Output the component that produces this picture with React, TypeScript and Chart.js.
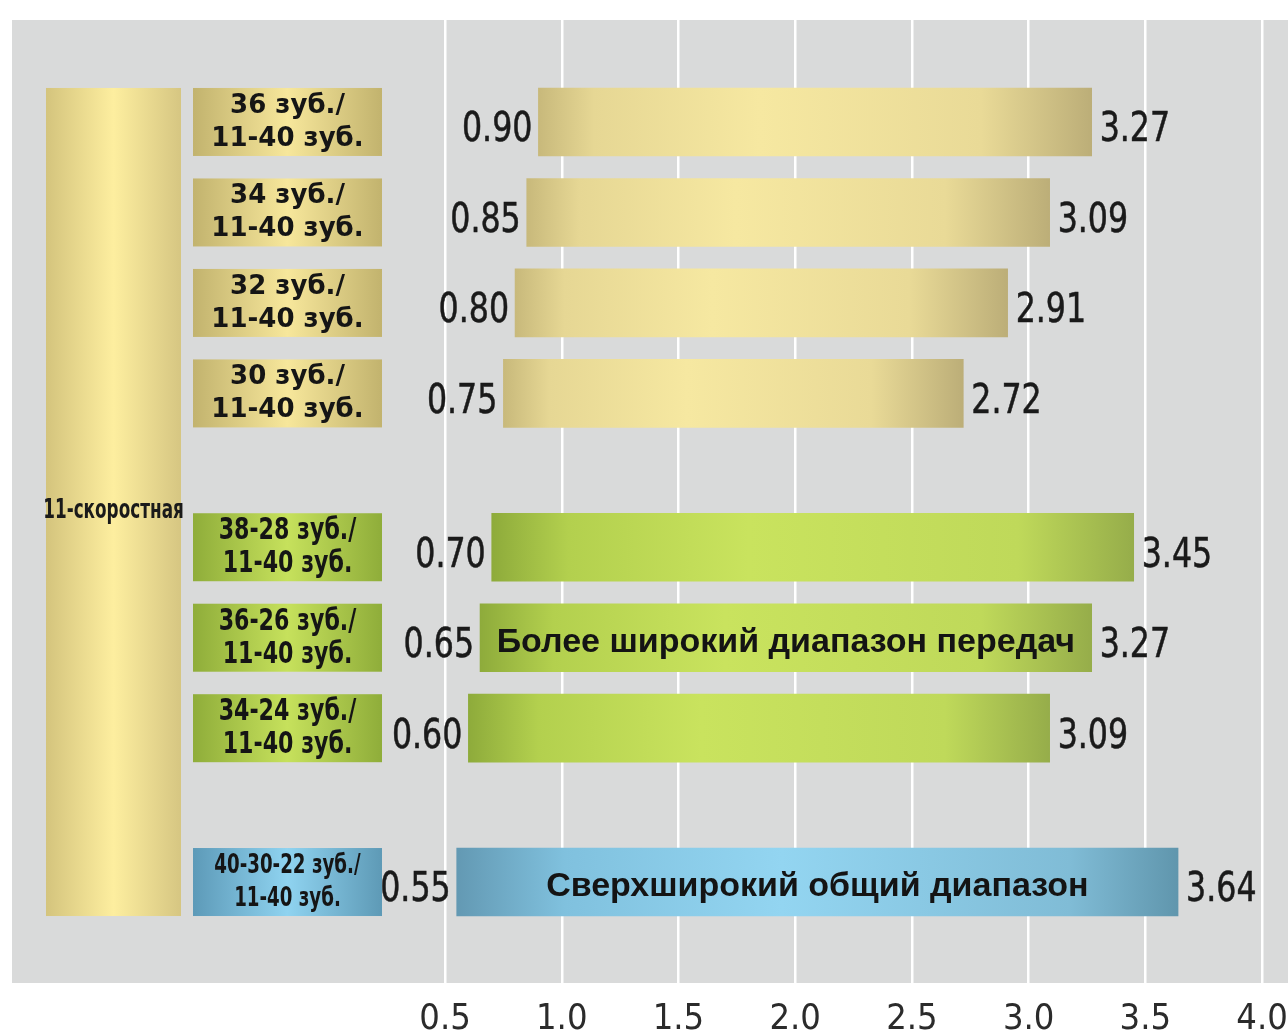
import React, { useEffect, useRef } from 'react';
import { Chart, registerables } from 'chart.js';

Chart.register(...registerables);

// ---------- data ----------
const chainrings = ['36 зуб./', '34 зуб./', '32 зуб./', '30 зуб./', '38-28 зуб./', '36-26 зуб./', '34-24 зуб./', '40-30-22 зуб./'];
const cassettes = ['11-40 зуб.', '11-40 зуб.', '11-40 зуб.', '11-40 зуб.', '11-40 зуб.', '11-40 зуб.', '11-40 зуб.', '11-40 зуб.'];
const lowGear = [0.90, 0.85, 0.80, 0.75, 0.70, 0.65, 0.60, 0.55];
const highGear = [3.27, 3.09, 2.91, 2.72, 3.45, 3.27, 3.09, 3.64];
const groupOfRow = [0, 0, 0, 0, 1, 1, 1, 2];
const barCaptions = ['', '', '', '', '', 'Более широкий диапазон передач', '', 'Сверхширокий общий диапазон'];
const drivetrainLabel = '11-скоростная';
const xTickValues = [0.5, 1.0, 1.5, 2.0, 2.5, 3.0, 3.5, 4.0];

// ---------- styling ----------
const GROUP_GAP = 0.7;
const COND = "'DejaVu Sans Condensed', 'Liberation Sans Narrow', sans-serif";
const SANS = "'Liberation Sans', Arial, sans-serif";
const WIDE = "'DejaVu Sans', 'Liberation Sans', sans-serif";

type Stops = [number, string][];
const barStops: Stops[] = [
  [[0, '#c8b97b'], [0.1, '#e6d794'], [0.4, '#f6e8a1'], [0.8, '#e9da97'], [1, '#bcae78']],
  [[0, '#8eab3b'], [0.12, '#b3d04e'], [0.4, '#c9e35e'], [0.82, '#bfd95a'], [1, '#96ad4a']],
  [[0, '#6399b3'], [0.15, '#80c1de'], [0.45, '#93d5f1'], [0.85, '#80bcd6'], [1, '#6096ad']],
];
const boxStops: Stops[] = [
  [[0, '#c2b36e'], [0.5, '#f7e79b'], [1, '#c2b36e']],
  [[0, '#8fad3a'], [0.5, '#c6e15c'], [1, '#8fad3a']],
  [[0, '#5d9ab8'], [0.5, '#8fd3f0'], [1, '#5e9ab6']],
];
const bigBoxStops: Stops = [[0, '#d4c47d'], [0.5, '#fdee9f'], [1, '#d6c682']];
const boxFonts = [`bold 26px ${WIDE}`, `bold 30px ${COND}`, `bold 27px ${COND}`];
const boxScale = [1.0, 0.82, 0.75];

function makeGradient(ctx: CanvasRenderingContext2D, x0: number, x1: number, stops: Stops) {
  const g = ctx.createLinearGradient(x0, 0, x1, 0);
  stops.forEach(([o, c]) => g.addColorStop(o, c));
  return g;
}

function fillScaled(ctx: CanvasRenderingContext2D, text: string, x: number, y: number, sx: number, align: CanvasTextAlign, stroke = 0) {
  ctx.save();
  ctx.translate(x, y);
  ctx.scale(sx, 1);
  ctx.textAlign = align;
  ctx.textBaseline = 'middle';
  ctx.fillText(text, 0, 0);
  if (stroke > 0) {
    ctx.lineWidth = stroke;
    ctx.strokeStyle = ctx.fillStyle as string;
    ctx.strokeText(text, 0, 0);
  }
  ctx.restore();
}

export default function App() {
  const ref = useRef<HTMLCanvasElement>(null);

  useEffect(() => {
    const canvas = ref.current;
    if (!canvas) return;
    const positions = chainrings.map((_, i) => i + GROUP_GAP * groupOfRow[i]);

    const bgPlugin = {
      id: 'bg',
      beforeDraw(chart: any) {
        const { ctx, chartArea } = chart;
        ctx.save();
        ctx.fillStyle = '#ffffff';
        ctx.fillRect(0, 0, chart.width, chart.height);
        ctx.fillStyle = '#d9dada';
        ctx.fillRect(chartArea.left, chartArea.top, chartArea.right - chartArea.left, chartArea.bottom - chartArea.top);
        ctx.restore();
      },
    };

    const labelPlugin = {
      id: 'labels',
      afterDatasetsDraw(chart: any) {
        const { ctx, chartArea } = chart;
        const xs = chart.scales.x;
        const meta = chart.getDatasetMeta(0);
        ctx.save();
        // big side box
        const first = meta.data[0];
        const last = meta.data[meta.data.length - 1];
        const bTop = first.y - first.height / 2;
        const bBot = last.y + last.height / 2;
        const bx0 = chartArea.left + 34;
        const bx1 = chartArea.left + 169;
        ctx.fillStyle = makeGradient(ctx, bx0, bx1, bigBoxStops);
        ctx.fillRect(bx0, bTop, bx1 - bx0, bBot - bTop);
        ctx.fillStyle = '#1a1a1a';
        ctx.font = `bold 26px ${COND}`;
        fillScaled(ctx, drivetrainLabel, (bx0 + bx1) / 2, (bTop + bBot) / 2 + 9, 0.72, 'center');

        meta.data.forEach((el: any, i: number) => {
          const g = groupOfRow[i];
          const top = el.y - el.height / 2;
          const h = el.height;
          // category box
          const cx0 = chartArea.left + 181;
          const cx1 = chartArea.left + 370;
          ctx.fillStyle = makeGradient(ctx, cx0, cx1, boxStops[g]);
          ctx.fillRect(cx0, top, cx1 - cx0, h);
          ctx.fillStyle = '#151515';
          ctx.font = boxFonts[g];
          fillScaled(ctx, chainrings[i], (cx0 + cx1) / 2, el.y - 16, boxScale[g], 'center');
          fillScaled(ctx, cassettes[i], (cx0 + cx1) / 2, el.y + 17, boxScale[g], 'center');

          // value labels
          const xl = xs.getPixelForValue(lowGear[i]);
          const xr = xs.getPixelForValue(highGear[i]);
          ctx.font = `40px ${COND}`;
          ctx.fillStyle = '#1a1a1a';
          fillScaled(ctx, lowGear[i].toFixed(2), xl - 6, el.y + 9, 0.88, 'right', 0.5);
          fillScaled(ctx, highGear[i].toFixed(2), xr + 8, el.y + 9, 0.88, 'left', 0.5);

          if (barCaptions[i]) {
            ctx.font = `bold 34px ${SANS}`;
            ctx.fillStyle = '#141414';
            fillScaled(ctx, barCaptions[i], (xl + xr) / 2, el.y + 5, 1, 'center');
          }
        });
        ctx.restore();
      },
    };

    const chart = new Chart(canvas, {
      type: 'bar',
      data: {
        labels: chainrings,
        datasets: [
          {
            data: chainrings.map((_, i) => ({ x: [lowGear[i], highGear[i]], y: positions[i] })) as any,
            backgroundColor: (c: any) => {
              const ch = c.chart;
              if (!ch.chartArea || c.dataIndex === undefined) return '#e6d896';
              const xs = ch.scales.x;
              const i = c.dataIndex;
              return makeGradient(ch.ctx, xs.getPixelForValue(lowGear[i]), xs.getPixelForValue(highGear[i]), barStops[groupOfRow[i]]);
            },
            borderWidth: 0,
            barThickness: 68,
          },
        ],
      },
      options: {
        indexAxis: 'y',
        animation: false,
        responsive: false,
        layout: { padding: { top: 20, left: 12, right: 0, bottom: 0 } },
        plugins: {
          legend: { display: false },
          tooltip: { enabled: false },
        },
        scales: {
          x: {
            type: 'linear',
            min: -1.355,
            max: 4.111,
            afterBuildTicks: (s: any) => {
              s.ticks = xTickValues.map((v) => ({ value: v }));
            },
            afterFit: (s: any) => {
              s.height = 52;
              s.paddingLeft = 0;
              s.paddingRight = 0;
            },
            grid: { color: '#ffffff', lineWidth: 2.5, drawTicks: false },
            border: { display: false },
            ticks: {
              padding: 15,
              color: '#2b2b2b',
              autoSkip: false,
              maxRotation: 0,
              font: { family: COND, size: 36 },
              callback: (v: any) => Number(v).toFixed(1),
            },
          },
          y: {
            type: 'linear',
            reverse: true,
            offset: false,
            min: -1.127,
            max: 9.516,
            display: false,
          },
        },
      } as any,
      plugins: [bgPlugin, labelPlugin],
    });
    return () => chart.destroy();
  }, []);

  return (
    <div style={{ position: 'fixed', left: 0, top: 0, width: 1288, height: 1035, background: '#fff' }}>
      <canvas ref={ref} width={1288} height={1035} style={{ display: 'block' }} />
    </div>
  );
}
